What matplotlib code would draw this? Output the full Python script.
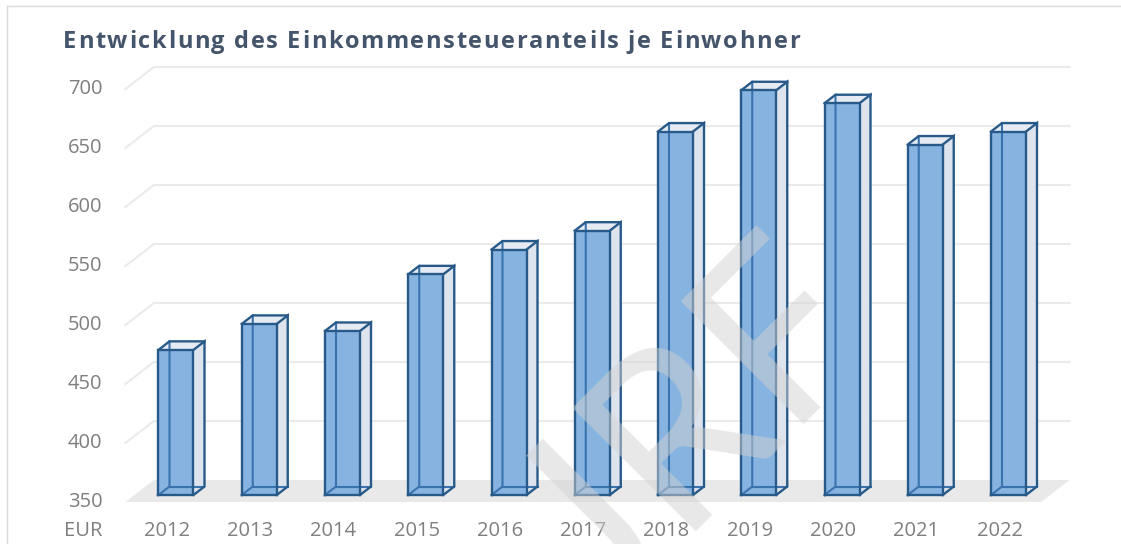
import matplotlib
matplotlib.use("Agg")
import matplotlib.pyplot as plt
from matplotlib.patches import Polygon
from matplotlib.lines import Line2D
from matplotlib.transforms import IdentityTransform

# ---------------- data ----------------
years = ["2012", "2013", "2014", "2015", "2016", "2017", "2018", "2019", "2020", "2021", "2022"]
values = [473, 495, 489, 537, 558, 574, 658, 693, 682, 647, 658]
y_ticks = [350, 400, 450, 500, 550, 600, 650, 700]
unit_label = "EUR"
title = "Entwicklung des Einkommensteueranteils je Einwohner"
watermark = "JRF"

# ---------------- layout (pixels) ----------------
W, H, DPI = 1121, 544, 100
CAT_PX = 83.25      # pixels per category
VAL_PX = 1.18       # pixels per EUR
X0_PX = 176.0       # x of first category centre (bar front plane)
BASE_PX = 495.0     # y (from top) of axis minimum in bar front plane
VMIN = y_ticks[0]

BAR_DEPTH = (11.0, -8.5)     # bar back face offset (px, image y down)
FLOOR_FRONT = (-9.0, 7.0)    # front edge of floor / labels plane
WALL_BACK = (19.5, -15.0)    # back wall plane
HALF_W = 17.5 / CAT_PX

fig = plt.figure(figsize=(W / DPI, H / DPI), dpi=DPI)
fig.patch.set_facecolor("white")
ax = fig.add_axes([0, 0, 1, 1])
ax.set_axis_off()
ax.set_xlim(-X0_PX / CAT_PX, (W - X0_PX) / CAT_PX)
ax.set_ylim(VMIN - (H - BASE_PX) / VAL_PX, VMIN + BASE_PX / VAL_PX)

IDT = IdentityTransform()


def P(x, v, off=(0.0, 0.0)):
    """data point -> display px with a depth offset (image px, y down)."""
    px, py = ax.transData.transform((x, v))
    return (px + off[0], py - off[1])


def poly(pts, **kw):
    ax.add_patch(Polygon(pts, closed=True, transform=IDT, **kw))


def line(pts, **kw):
    ax.add_line(Line2D([p[0] for p in pts], [p[1] for p in pts], transform=IDT, **kw))


n = len(years)
xl, xr = -0.5, n - 0.5

# floor
poly([P(xl, VMIN, FLOOR_FRONT), P(xl, VMIN, WALL_BACK), P(xr, VMIN, WALL_BACK), P(xr, VMIN, FLOOR_FRONT)],
     facecolor="#E9E9E9", edgecolor="none", zorder=1)

# grid lines (side wall diagonal + back wall horizontal)
GRID_C = "#EBEBEB"
for v in y_ticks[1:]:
    line([P(xl, v, FLOOR_FRONT), P(xl, v, WALL_BACK), P(xr, v, WALL_BACK)],
         color=GRID_C, lw=1.5, zorder=1, solid_joinstyle="miter")

# bars
FRONT_C = "#86B3E0"
SIDE_C = "#DEE4ED"
TOP_C = "#E6EBF3"
EDGE_C = "#285A89"
INNER_C = "#3A73AE"
for i, v in enumerate(values):
    FLb, FRb = P(i - HALF_W, VMIN), P(i + HALF_W, VMIN)
    FLt, FRt = P(i - HALF_W, v), P(i + HALF_W, v)
    BLb, BRb = P(i - HALF_W, VMIN, BAR_DEPTH), P(i + HALF_W, VMIN, BAR_DEPTH)
    BLt, BRt = P(i - HALF_W, v, BAR_DEPTH), P(i + HALF_W, v, BAR_DEPTH)
    poly([FLb, FRb, FRt, FLt], facecolor=FRONT_C, edgecolor="none", zorder=3)
    poly([FRb, BRb, BRt, FRt], facecolor=SIDE_C, edgecolor="none", zorder=3)
    poly([FLt, FRt, BRt, BLt], facecolor=TOP_C, edgecolor="none", zorder=3)
    # hidden edges seen through the transparent faces
    line([FLb, BLb, BLt], color=INNER_C, lw=1.5, zorder=4)
    line([BLb, BRb], color=INNER_C, lw=1.5, zorder=4)
    # visible outline
    kw = dict(color=EDGE_C, lw=1.7, zorder=5, solid_joinstyle="miter", solid_capstyle="projecting")
    line([FLb, FRb, FRt, FLt, FLb], **kw)
    line([FRb, BRb, BRt, FRt], **kw)
    line([FLt, BLt, BRt], **kw)

# labels
LABEL_C = "#7F7F7F"
FONT = "Open Sans"
LFS = 14.5
for i, yr in enumerate(years):
    x, y = P(i, VMIN, FLOOR_FRONT)
    ax.text(x, y - 29, yr, transform=IDT, ha="center", va="center",
            fontsize=LFS, color=LABEL_C, family=FONT, zorder=6)
for v in y_ticks:
    x, y = P(xl, v, FLOOR_FRONT)
    ax.text(x - 23, y, str(v), transform=IDT, ha="right", va="center",
            fontsize=LFS, color=LABEL_C, family=FONT, zorder=6)
x, y = P(xl, VMIN, FLOOR_FRONT)
ax.text(x - 23, y - 29, unit_label, transform=IDT, ha="right", va="center",
        fontsize=LFS, color=LABEL_C, family=FONT, zorder=6)

# title with slight letter spacing (spread from x=63 to x=800)
TFS = 17
T_X0, T_X1, T_BASE = 63.0, 800.0, 48.5
renderer = fig.canvas.get_renderer()


def text_w(s):
    tt = fig.text(0, 0, s + "|", fontsize=TFS, fontweight="bold", family=FONT)
    w = tt.get_window_extent(renderer).width
    tt.remove()
    return w


bar_w = text_w("")
nat = [text_w(title[:k]) - bar_w for k in range(len(title) + 1)]
spacing = max(0.0, ((T_X1 - T_X0) - nat[-1]) / (len(title) - 1))
for k, ch in enumerate(title):
    if ch == " ":
        continue
    fig.text((T_X0 + nat[k] + k * spacing) / W, 1 - T_BASE / H, ch, ha="left", va="baseline",
             fontsize=TFS, fontweight="bold", color="#44546A", family=FONT)

# chart border (top and left edges visible)
fig.add_artist(Line2D([7 / W, 7 / W], [0, 1 - 6 / H], transform=fig.transFigure, color="#D9D9D9", lw=1))
fig.add_artist(Line2D([7 / W, 1], [1 - 6 / H, 1 - 6 / H], transform=fig.transFigure, color="#D9D9D9", lw=1))

# watermark
fig.text(698 / W, 1 - 430 / H, watermark, rotation=45, rotation_mode="anchor", ha="center", va="center",
         fontsize=175, color="#D2D2D2", alpha=0.5, family="Lato", zorder=10)

fig.savefig("out.png", dpi=DPI, facecolor="white")
